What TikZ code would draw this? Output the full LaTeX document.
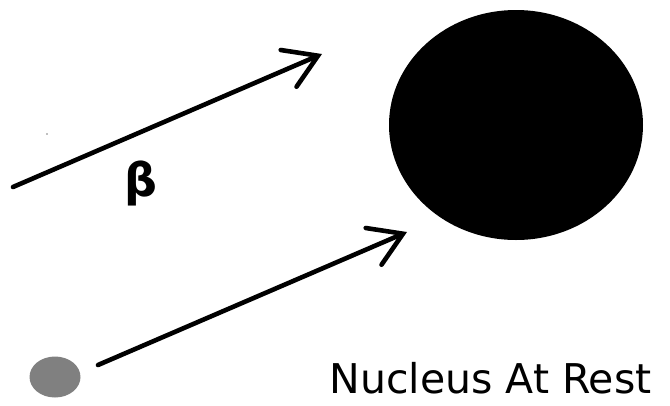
\documentclass[tikz,border=0pt]{standalone}
\usepackage{fontspec}
\setmainfont{DejaVu Sans}
\usetikzlibrary{arrows.meta,shapes.geometric}
\tikzset{
  beam/.style={line width=4.6pt, line cap=round, -{Straight Barb[length=32pt,width=40pt,line cap=round]}},
  blob/.style={ellipse, inner sep=0pt, draw=none}
}
\begin{document}
\begin{tikzpicture}[x=1pt,y=-1pt]
    \useasboundingbox (0,0) rectangle (670,405);
    % Big nucleus being hit
    \node[blob, fill=black, minimum width=254pt, minimum height=230pt] (target) at (516,125) {};
    % Small nucleus at rest
    \node[blob, fill=gray, minimum width=51pt, minimum height=41pt] (rest) at (55,377) {};
    \node[anchor=base west, font=\fontsize{41}{41}\selectfont] (restlabel) at (326,393) {Nucleus At Rest};
    % Incoming beta particles
    \coordinate (inA) at (13,187);
    \coordinate (tipA) at (322,54);
    \coordinate (inB) at (98,365);
    \coordinate (tipB) at (407,232);
    \draw[beam] (inA) -- (tipA);
    \draw[beam] (inB) -- (tipB);
    \node[font=\bfseries\fontsize{46}{46}\selectfont] (beta) at (141,183) {β};
    % speck
    \fill[gray] (47,134) circle (0.8);
\end{tikzpicture}
\end{document}
